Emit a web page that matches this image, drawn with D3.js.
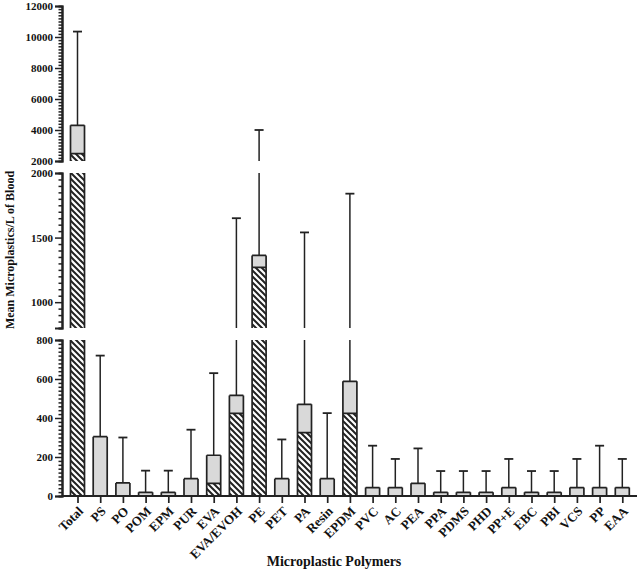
<!DOCTYPE html>
<html><head><meta charset="utf-8">
<script src="https://cdn.jsdelivr.net/npm/d3@7"></script>
<style>
body{margin:0;background:#fff;}
svg{display:block;}
text{font-family:"Liberation Serif","Times New Roman",serif;font-weight:bold;fill:#111;}
</style></head><body>
<svg id="chart" width="640" height="570"></svg>
<script>
const categories = ["Total","PS","PO","POM","EPM","PUR","EVA","EVA/EVOH","PE","PET","PA","Resin","EPDM","PVC","AC","PEA","PPA","PDMS","PHD","PP+E","EBC","PBI","VCS","PP","EAA"];
const meanValues = [4300,304,67,19,19,89,209,516,1362,89,470,89,588,43,43,65,19,19,19,43,19,19,43,43,43];
const hatchedValues = [2480,0,0,0,0,0,65,424,1269,0,325,0,424,0,0,0,0,0,0,0,0,0,0,0,0];
const errorTop = [10350,720,300,130,130,340,630,1650,4000,290,1540,425,1840,258,190,244,128,128,128,190,128,128,190,258,190];
const segLow = [0,800,2000];
const segHigh = [800,2000,12000];
const segMajorTicks = [[0,200,400,600,800],[1000,1500,2000],[2000,4000,6000,8000,10000,12000]];
const segMinorStep = [20,50,200];
const yTitle = "Mean Microplastics/L of Blood";
const xTitle = "Microplastic Polymers";

const svg = d3.select("#chart");
const ink = "#222";
const axisX = 62;
const segPix = [[496,340],[328,173],[161,6]];

const x = d3.scalePoint().domain(categories).range([77.5,622.3]);
const barW = 14;
const ys = segLow.map((lo,i)=>d3.scaleLinear().domain([lo,segHigh[i]]).range(segPix[i]));

const defs = svg.append("defs");
const pat = defs.append("pattern").attr("id","hatch").attr("patternUnits","userSpaceOnUse")
  .attr("width",6).attr("height",6);
pat.append("rect").attr("width",6).attr("height",6).attr("fill","#fff");
pat.append("path").attr("d","M-1,-1 L7,7 M-1,5 L1,7 M5,-1 L7,1")
  .attr("stroke",ink).attr("stroke-width",2);

const data = categories.map((c,i)=>({c,mean:meanValues[i],hatch:hatchedValues[i],err:errorTop[i]}));
const gBars = svg.append("g");
const clamp=(v,lo,hi)=>Math.max(lo,Math.min(hi,v));

segLow.forEach((lo,si)=>{
  const hi = segHigh[si], y = ys[si];
  const g = gBars.append("g");
  data.forEach(d=>{
    const cx = x(d.c), x0 = cx-barW/2;
    if(d.err>lo && d.mean<hi){
      const yA = y(Math.max(d.mean,lo)), yB = y(Math.min(d.err,hi));
      g.append("line").attr("x1",cx).attr("x2",cx).attr("y1",yA).attr("y2",yB)
        .attr("stroke",ink).attr("stroke-width",1.5);
      if(d.err<=hi) g.append("line").attr("x1",cx-4.5).attr("x2",cx+4.5).attr("y1",yB).attr("y2",yB)
        .attr("stroke",ink).attr("stroke-width",1.8);
    }
    if(d.mean<=lo) return;
    const top = Math.min(d.mean,hi);
    const hTop = clamp(d.hatch,lo,hi);
    if(d.hatch>lo){
      g.append("rect").attr("x",x0).attr("width",barW).attr("y",y(Math.min(hTop,top))).attr("height",y(lo)-y(Math.min(hTop,top)))
        .attr("fill","url(#hatch)");
    }
    if(d.mean>Math.max(d.hatch,lo)){
      const gb = Math.max(d.hatch,lo);
      g.append("rect").attr("x",x0).attr("width",barW).attr("y",y(top)).attr("height",y(gb)-y(top))
        .attr("fill","#d9d9d9");
    }
    let p = d3.path();
    p.moveTo(x0,y(lo)); p.lineTo(x0,y(top));
    p.moveTo(x0+barW,y(lo)); p.lineTo(x0+barW,y(top));
    if(d.mean<=hi){ p.moveTo(x0,y(top)); p.lineTo(x0+barW,y(top)); }
    if(lo===0){ p.moveTo(x0,y(0)); p.lineTo(x0+barW,y(0)); }
    if(d.hatch>lo && d.hatch<d.mean && d.hatch<=hi){ p.moveTo(x0,y(d.hatch)); p.lineTo(x0+barW,y(d.hatch)); }
    g.append("path").attr("d",p.toString()).attr("fill","none").attr("stroke",ink).attr("stroke-width",1.7);
  });
  const ax = svg.append("g").attr("transform",`translate(${axisX},0)`);
  const minorVals = d3.range(lo,hi+0.001,segMinorStep[si]).filter(v=>!segMajorTicks[si].includes(v));
  ax.call(d3.axisLeft(y).tickValues(minorVals).tickSize(3.5).tickFormat(""));
  ax.append("g").call(d3.axisLeft(y).tickValues(segMajorTicks[si]).tickSize(7).tickPadding(2).tickFormat(d3.format("d")));
  ax.selectAll("path.domain").attr("stroke",ink).attr("stroke-width",2);
  ax.selectAll(".tick line").attr("stroke",ink).attr("stroke-width",1.5);
  ax.selectAll("text").attr("font-size",11).attr("font-family","Liberation Serif").attr("font-weight","bold").attr("fill","#111");
});

const xa = svg.append("g").attr("transform","translate(0,496)");
xa.call(d3.axisBottom(x).tickSize(7).tickSizeOuter(0).tickFormat(""));
xa.select("path.domain").attr("d","M62,0H637").attr("stroke",ink).attr("stroke-width",2);
xa.selectAll(".tick line").attr("stroke",ink).attr("stroke-width",1.7);
xa.selectAll(".tick").append("text")
  .attr("text-anchor","end").attr("font-size",13).attr("fill","#111")
  .attr("font-family","Liberation Serif").attr("font-weight","bold")
  .attr("transform","translate(6,16) rotate(-45)")
  .text(d=>d);

svg.append("text").attr("transform","translate(14,250) rotate(-90)").attr("text-anchor","middle")
  .attr("font-size",12).text(yTitle);
svg.append("text").attr("x",334).attr("y",566).attr("text-anchor","middle").attr("font-size",14).text(xTitle);
</script></body></html>
